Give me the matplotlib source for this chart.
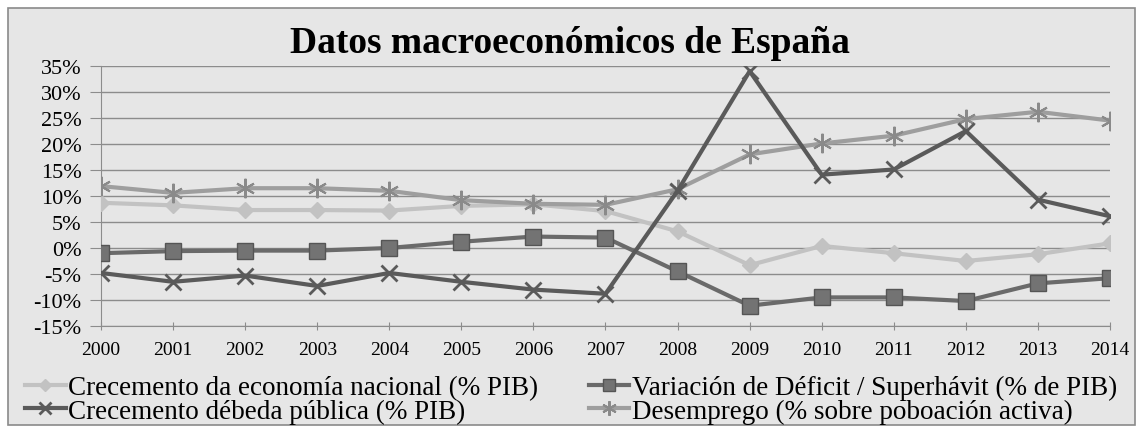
import matplotlib.pyplot as plt
from matplotlib.patches import Rectangle
from matplotlib.ticker import FuncFormatter

years = list(range(2000, 2015))

# Crecemento da economía nacional (% PIB)
economia = [8.7, 8.2, 7.3, 7.3, 7.2, 8.1, 8.4, 7.1, 3.2, -3.3, 0.4, -1.0, -2.5, -1.2, 0.9]
# Variación de Déficit / Superhávit (% de PIB)
deficit = [-1.0, -0.6, -0.5, -0.5, 0.0, 1.2, 2.2, 2.0, -4.5, -11.1, -9.5, -9.5, -10.2, -6.8, -5.8]
# Crecemento débeda pública (% PIB)
debeda = [-4.8, -6.5, -5.3, -7.3, -4.8, -6.5, -8.0, -8.8, 11.0, 34.0, 14.1, 15.1, 22.5, 9.3, 6.1]
# Desemprego (% sobre poboación activa)
desemprego = [11.9, 10.6, 11.5, 11.5, 11.0, 9.2, 8.5, 8.3, 11.3, 18.0, 20.1, 21.6, 24.8, 26.2, 24.5]

labels = ['Crecemento da economía nacional (% PIB)',
          'Variación de Déficit / Superhávit (% de PIB)',
          'Crecemento débeda pública (% PIB)',
          'Desemprego (% sobre poboación activa)']

plt.rcParams['font.family'] = ['Liberation Serif', 'DejaVu Serif']

fig = plt.figure(figsize=(11.37, 4.27), dpi=100)
fig.patch.set_facecolor('white')

# chart area background and frame
fig.patches.append(Rectangle((8 / 1137, 1 - 426 / 427), 1127 / 1137, 417 / 427,
                             transform=fig.transFigure, facecolor='#e6e6e6',
                             edgecolor='#8a8a8a', linewidth=1.2, zorder=-5))

ax = fig.add_axes([101 / 1137, 1 - 327 / 427, 1009 / 1137, 260 / 427])
ax.set_facecolor('none')

l1, = ax.plot(years, economia, color='#c2c2c2', lw=3, marker='D', ms=8,
              mfc='#c2c2c2', mec='#c2c2c2', zorder=3)
l2, = ax.plot(years, deficit, color='#6a6a6a', lw=3, marker='s', ms=11,
              mfc='#737373', mec='#555555', zorder=4)
l3, = ax.plot(years, debeda, color='#5a5a5a', lw=3, marker='x', ms=11, mew=2,
              mec='#5a5a5a', zorder=5)
l4, = ax.plot(years, desemprego, color='#9e9e9e', lw=3, marker=(6, 2, 0), ms=14,
              mew=1.5, mec='#8a8a8a', zorder=3)

ax.set_ylim(-15, 35)
ax.set_yticks(range(-15, 36, 5))
ax.yaxis.set_major_formatter(FuncFormatter(lambda v, p: '{:d}%'.format(int(v))))
ax.set_xlim(2000, 2014)
ax.set_xticks(years)
ax.set_xticklabels([str(y) for y in years])
ax.grid(axis='y', color='#8c8c8c', lw=1)
ax.set_axisbelow(True)

for s in ['top', 'right']:
    ax.spines[s].set_visible(False)
ax.spines['left'].set_color('#8c8c8c')
ax.spines['bottom'].set_color('#8c8c8c')
ax.tick_params(axis='y', labelsize=16, length=8, color='#8c8c8c', direction='out', pad=6)
ax.tick_params(axis='x', labelsize=14, length=6, color='#8c8c8c', direction='inout', pad=8)

fig.text(0.501, 1 - 53 / 427, 'Datos macroeconómicos de España', ha='center',
         va='baseline', fontsize=27, fontweight='bold')

# legend filled column by column: reorder so rows read economia/deficit, debeda/desemprego
fig.legend([l1, l3, l2, l4], [labels[0], labels[2], labels[1], labels[3]],
           loc='upper left', ncol=2,
           bbox_to_anchor=(25 / 1137, 1 - 376 / 427), frameon=False, fontsize=19.5,
           handlelength=1.5, handletextpad=0.1, columnspacing=1.85,
           labelspacing=-0.05, borderaxespad=0, borderpad=0, markerscale=0.75)

fig.savefig('out.png', dpi=100)
